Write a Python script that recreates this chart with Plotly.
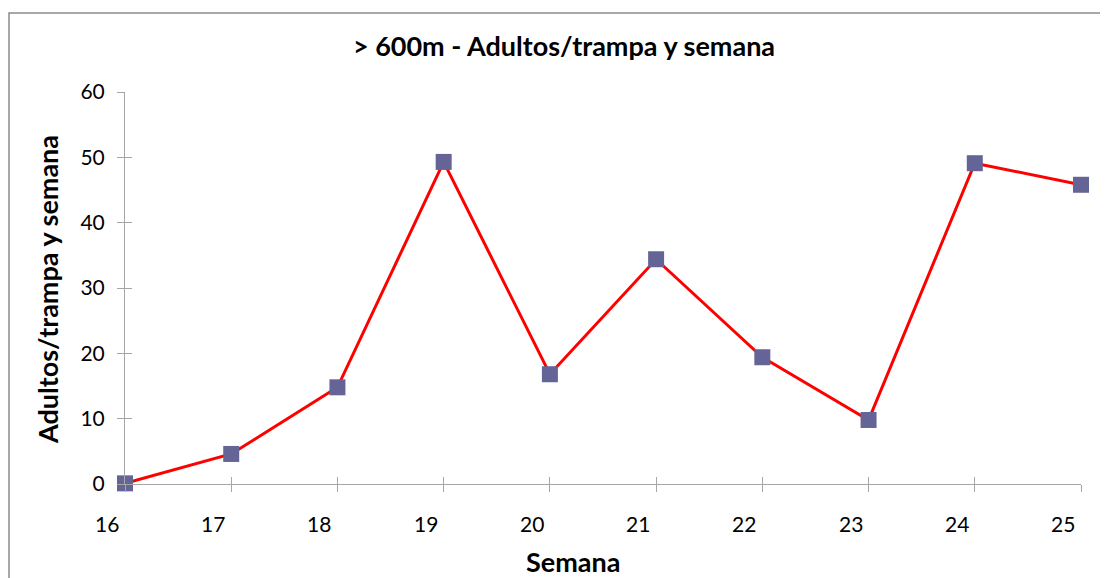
import plotly.graph_objects as go

weeks = [16, 17, 18, 19, 20, 21, 22, 23, 24, 25]
adults = [0.1, 4.6, 14.8, 49.3, 16.8, 34.4, 19.4, 9.8, 49.1, 45.8]
y_ticks = [0, 10, 20, 30, 40, 50, 60]
title_text = "> 600m - Adultos/trampa y semana"
x_title = "Semana"
y_title = "Adultos/trampa y semana"

FONT = "Lato"
AXIS_GREY = "#a6a6a6"

W, H = 1100, 570
ML, MR, MT, MB = 117, 27, 84, 94
PW, PH = W - ML - MR, H - MT - MB

def px_x(p):
    return (p - ML) / PW

def px_y(p):
    return (H - MB - p) / PH

fig = go.Figure()
fig.add_trace(go.Scatter(
    x=weeks, y=adults, mode="lines+markers",
    line=dict(color="#ff0000", width=3),
    marker=dict(symbol="square", size=16, color="#646496"),
    showlegend=False, cliponaxis=False,
))
# invisible helper trace to realise overlay axes (cross ticks)
fig.add_trace(go.Scatter(x=[weeks[0]], y=[0], xaxis="x2", yaxis="y2",
                         mode="markers", marker=dict(opacity=0), showlegend=False, hoverinfo="skip"))

xr = [weeks[0], weeks[-1]]
yr = [y_ticks[0], y_ticks[-1]]

annotations = []
for w in weeks:
    annotations.append(dict(x=w, y=0, xref="x", yref="y", text=str(w), showarrow=False,
                            xanchor="center", yanchor="middle", xshift=-18, yshift=-39,
                            font=dict(size=21, family=FONT, color="black")))
annotations.append(dict(x=px_x(564.5), y=px_y(553), xref="paper", yref="paper",
                        text="<b>" + x_title + "</b>", showarrow=False,
                        xanchor="center", yanchor="middle",
                        font=dict(size=27, family=FONT, color="black")))
annotations.append(dict(x=px_x(39), y=px_y(282), xref="paper", yref="paper",
                        text="<b>" + y_title + "</b>", showarrow=False, textangle=-90,
                        xanchor="center", yanchor="middle",
                        font=dict(size=27, family=FONT, color="black")))

fig.update_layout(
    width=W, height=H,
    paper_bgcolor="white", plot_bgcolor="white",
    margin=dict(l=ML, r=MR, t=MT, b=MB),
    font=dict(family=FONT, color="black", size=21),
    title=dict(text="<b>" + title_text + "</b>", x=px_x(556), xref="paper",
               y=1 - 39 / H, yref="container", xanchor="center", yanchor="middle",
               font=dict(size=27, family=FONT)),
    xaxis=dict(range=xr, tickvals=weeks, showticklabels=False,
               ticks="outside", ticklen=7, tickcolor=AXIS_GREY, tickwidth=1,
               showline=True, linecolor=AXIS_GREY, linewidth=1,
               showgrid=False, zeroline=False),
    xaxis2=dict(range=xr, overlaying="x", anchor="y2", tickvals=weeks, showticklabels=False,
                ticks="inside", ticklen=7, tickcolor=AXIS_GREY, tickwidth=1,
                showline=False, showgrid=False, zeroline=False),
    yaxis=dict(range=yr, tickvals=y_ticks, ticks="outside", ticklen=7,
               tickcolor=AXIS_GREY, tickwidth=1, ticklabelstandoff=8,
               showline=True, linecolor=AXIS_GREY, linewidth=1,
               showgrid=False, zeroline=False, tickfont=dict(size=21)),
    yaxis2=dict(range=yr, overlaying="y", anchor="x", tickvals=y_ticks, showticklabels=False,
                ticks="inside", ticklen=7, tickcolor=AXIS_GREY, tickwidth=1,
                showline=False, showgrid=False, zeroline=False),
    annotations=annotations,
    shapes=[dict(type="rect", xref="paper", yref="paper",
                 x0=px_x(1), x1=px_x(W + 50), y0=px_y(H + 50), y1=px_y(5),
                 line=dict(color="#8c8c8c", width=1.5), fillcolor="rgba(0,0,0,0)", layer="below")],
)

fig.write_html("out.html")
